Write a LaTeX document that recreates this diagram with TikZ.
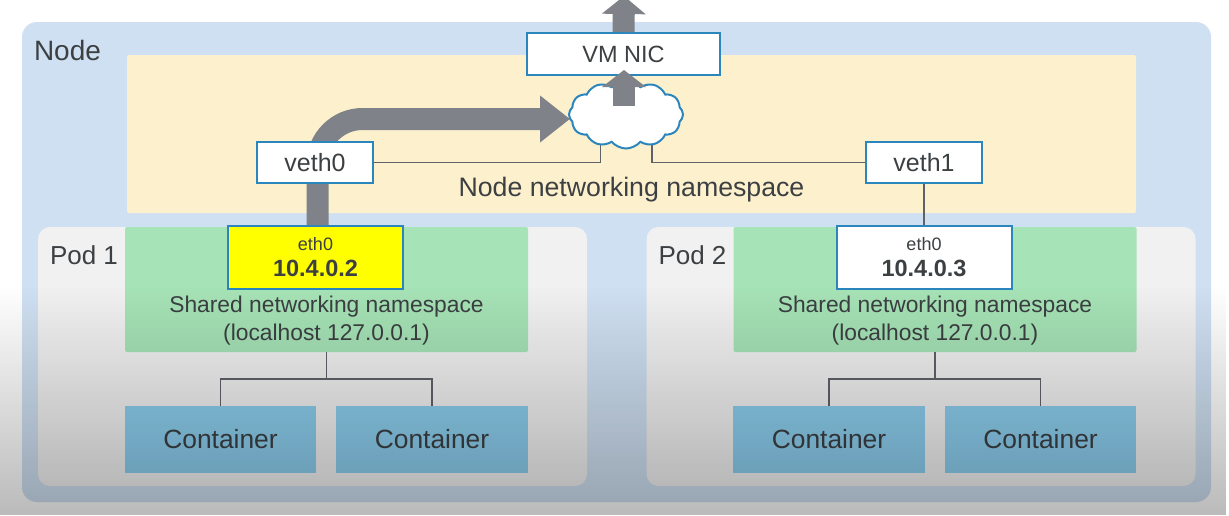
\documentclass[tikz,border=0pt]{standalone}
\usepackage{fontspec}
\setmainfont{Liberation Sans}
\usepackage{xcolor}
\usepackage{tikz}
\usetikzlibrary{calc,arrows.meta,positioning,shapes.symbols,fadings}
\definecolor{nodec}{HTML}{CFE0F2}
\definecolor{bandc}{HTML}{FDF0CD}
\definecolor{podc}{HTML}{F1F1F1}
\definecolor{greenc}{HTML}{A6E3B6}
\definecolor{contc}{HTML}{8CCEEE}
\definecolor{edgec}{HTML}{2B86BE}
\definecolor{flowc}{HTML}{7F8389}
\definecolor{wirec}{HTML}{5F6368}
\definecolor{textc}{HTML}{3C4043}
\definecolor{ethy}{HTML}{FFFF00}
\tikzfading[name=lowfade,top color=transparent!100,bottom color=transparent!73]
\tikzset{
  flow/.style={line width=22pt,flowc},
  wire/.style={line width=1.5pt,wirec},
  area/.style={inner sep=0pt,text=textc},
  nicbox/.style={draw=edgec,line width=2pt,fill=white,inner sep=0pt,text=textc,align=center},
  vethbox/.style={nicbox,minimum width=116pt,minimum height=41pt,font=\fontsize{25}{28}\selectfont},
  contbox/.style={area,fill=contc,minimum width=191.5pt,minimum height=67pt,font=\fontsize{26.4}{30}\selectfont},
  title/.style={text=textc,inner sep=0pt,font=\fontsize{26}{30}\selectfont}
}
\begin{document}
\begin{tikzpicture}[x=1pt,y=-1pt]
\clip (0,0) rectangle (1229,515);
\fill[white] (0,0) rectangle (1229,515);
\node[area,fill=nodec,rounded corners=15pt,minimum width=1189pt,minimum height=480pt] (node) at (616.5,262) {};
\node[area,fill=bandc,rounded corners=2pt,minimum width=1009pt,minimum height=158pt] (band) at (631.5,134) {};
\node[title,font=\fontsize{28}{30}\selectfont] (nodetitle) at (67.5,50) {Node};
\node[text=textc,inner sep=0pt,font=\fontsize{26.7}{30}\selectfont] (bandtitle) at (631.5,190) {Node networking namespace};
\foreach \n/\dx/\ethc/\ip/\lab in {A/0/ethy/10.4.0.2/Pod 1,B/608.5/white/10.4.0.3/Pod 2}{
  \node[area,fill=podc,rounded corners=12pt,minimum width=549pt,minimum height=259pt] (pod\n) at (312.5+\dx,356.5) {};
  \node[title] (podtitle\n) at (84+\dx,255.5) {\lab};
  \node[area,fill=greenc,rounded corners=2pt,minimum width=403pt,minimum height=125pt] (green\n) at (326.5+\dx,289.5) {};
  \node[nicbox,fill=\ethc,minimum width=175pt,minimum height=63pt,font=\fontsize{18}{22}\selectfont] (eth\n) at (315.5+\dx,257.5) {eth0\\[4pt]{\fontsize{23.5}{26}\selectfont\bfseries \ip}};
  \node[area,align=center,font=\fontsize{22.8}{28}\selectfont] (shared\n) at (326.5+\dx,320.5) {Shared networking namespace\\(localhost 127.0.0.1)};
  \node[contbox] (contl\n) at (220.5+\dx,439.5) {Container};
  \node[contbox] (contr\n) at (432+\dx,439.5) {Container};
  \coordinate (fork\n) at (326.5+\dx,379);
  \draw[wire] (green\n.south) -- (fork\n);
  \draw[wire] (contl\n.north) |- (fork\n) -| (contr\n.north);
}
\coordinate (tipA) at (570,119);
\coordinate (cloudl) at (600.5,143);
\coordinate (cloudr) at (652,139);
\draw[flow,rounded corners=45pt,-{Triangle[length=30pt,width=45pt]}] ($(ethA.north)+(2,0)$) |- (tipA);
\node[vethbox] (veth0) at (315,162.5) {veth0};
\node[vethbox] (veth1) at (924,162.5) {veth1};
\draw[wire] (veth0.east) -| (cloudl);
\draw[wire] (veth1.west) -| (cloudr);
\draw[wire] (veth1.south) -- (ethB.north);
\node[cloud,draw=edgec,line width=2pt,fill=white,cloud puffs=12,cloud puff arc=100,aspect=1.75,minimum width=114pt,minimum height=68pt,inner sep=0pt] (netcloud) at (626,114.5) {};
\node[nicbox,minimum width=193pt,minimum height=42pt,font=\fontsize{23.5}{26}\selectfont] (nic) at (623.5,54) {VM NIC};
\coordinate (nicin) at (624,70);
\coordinate (nicout) at (624,-4);
\draw[flow,-{Triangle[length=17pt,width=43pt]}] (624,106) -- (nicin);
\draw[flow,-{Triangle[length=18pt,width=43pt]}] (nic.north) -- (nicout);
\fill[black,path fading=lowfade] (0,285) rectangle (1229,515);
\end{tikzpicture}
\end{document}
